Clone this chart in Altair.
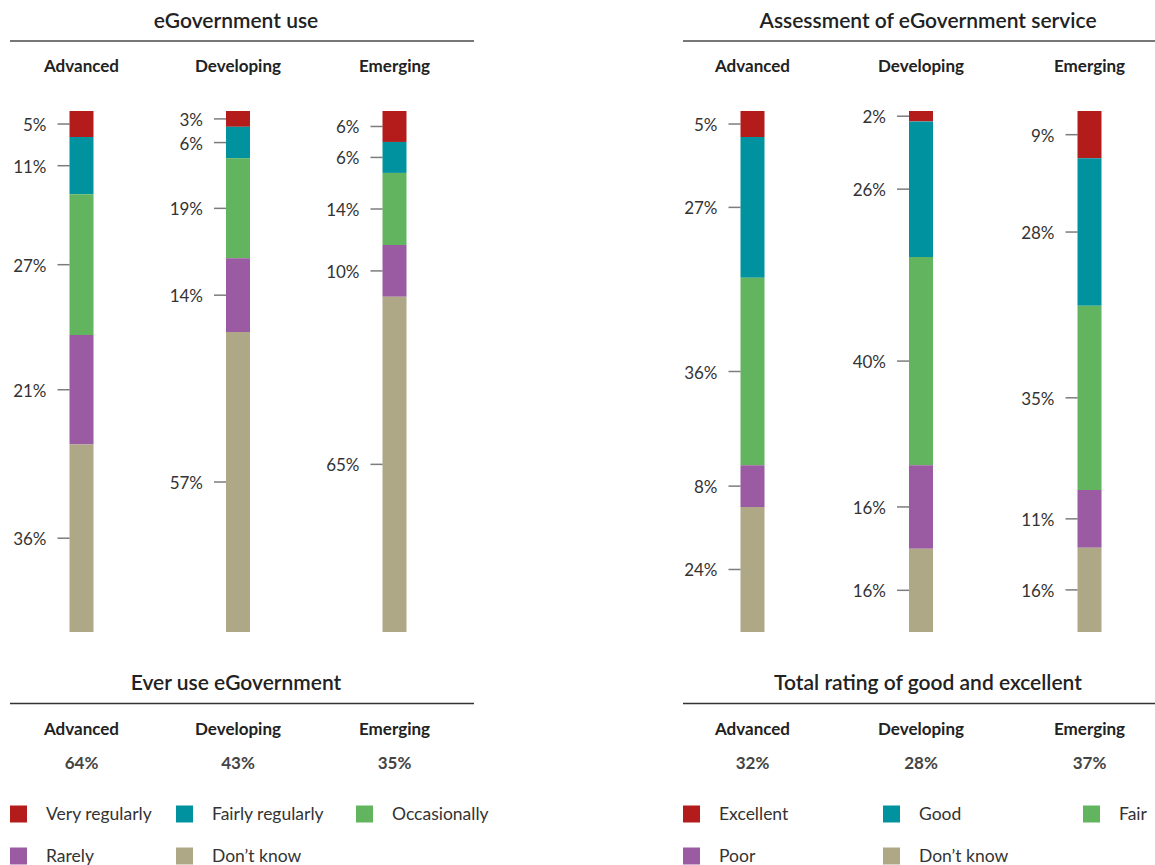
import altair as alt
import pandas as pd

# ---- data -------------------------------------------------------------
regions = ["Advanced", "Developing", "Emerging"]

use_levels = ["Very regularly", "Fairly regularly", "Occasionally", "Rarely", "Don’t know"]
use_advanced = [5, 11, 27, 21, 36]
use_developing = [3, 6, 19, 14, 57]
use_emerging = [6, 6, 14, 10, 65]
ever_use = [64, 43, 35]

rating_levels = ["Excellent", "Good", "Fair", "Poor", "Don’t know"]
rating_advanced = [5, 27, 36, 8, 24]
rating_developing = [2, 26, 40, 16, 16]
rating_emerging = [9, 28, 35, 11, 16]
good_excellent = [32, 28, 37]

palette = ["#B31C1A", "#00929F", "#62B45F", "#9B5BA3", "#AEA886"]

FONT = "Lato"
TITLE_COLOR = "#222222"
TEXT_COLOR = "#333333"


def long_table(levels, series):
    rows = []
    for region, values in zip(regions, series):
        for rank, (level, value) in enumerate(zip(levels, values)):
            rows.append({"region": region, "level": level, "rank": rank, "value": value})
    return pd.DataFrame(rows)


def text_row(text):
    return pd.DataFrame({"t": [text]})


def panel(title, foot_title, levels, series, totals, band_range, title_x,
          rule_span, legend_cols):
    xs = alt.Scale(domain=regions, range=band_range, paddingInner=0, paddingOuter=0)
    ys = alt.Scale(domain=[0, 1], range=[632, 111], nice=False, zero=False)
    cs = alt.Scale(domain=levels, range=palette)
    X = alt.X("region:N", scale=xs, axis=None)

    stacked = alt.Chart(long_table(levels, series)).transform_stack(
        stack="value", groupby=["region"], as_=["v0", "v1"], offset="normalize",
        sort=[alt.SortField("rank", order="descending")],
    ).transform_calculate(mid="(datum.v0 + datum.v1) / 2", label="datum.value + '%'")

    bars = stacked.mark_bar(width=24).encode(
        x=X,
        y=alt.Y("v0:Q", scale=ys, axis=None),
        y2="v1:Q",
        color=alt.Color("level:N", scale=cs, legend=None),
    )
    ticks = stacked.mark_tick(orient="horizontal", size=12, thickness=1.5,
                              color="#444444", xOffset=-18).encode(
        x=X, y=alt.Y("mid:Q", scale=ys, axis=None))
    labels = stacked.mark_text(align="right", baseline="middle", xOffset=-35, dy=2,
                               font=FONT, fontSize=17, color=TEXT_COLOR).encode(
        x=X, y=alt.Y("mid:Q", scale=ys, axis=None), text="label:N")

    heads = alt.Chart(pd.DataFrame({"region": regions, "total": totals})).transform_calculate(
        total_label="datum.total + '%'")
    head_style = dict(font=FONT, fontSize=17, fontWeight="bold", color=TITLE_COLOR,
                      baseline="middle")
    top_heads = heads.mark_text(**head_style).encode(x=X, y=alt.value(67), text="region:N")
    foot_heads = heads.mark_text(**head_style).encode(x=X, y=alt.value(730), text="region:N")
    foot_totals = heads.mark_text(font=FONT, fontSize=17, fontWeight="bold", color="#444444",
                                  baseline="middle").encode(
        x=X, y=alt.value(764), text="total_label:N")

    title_style = dict(font=FONT, fontSize=21, fontWeight=600, color=TITLE_COLOR,
                       baseline="middle", align="center")
    top_title = alt.Chart(text_row(title)).mark_text(**title_style).encode(
        x=alt.value(title_x), y=alt.value(22), text="t:N")
    foot_title = alt.Chart(text_row(foot_title)).mark_text(**title_style).encode(
        x=alt.value(title_x), y=alt.value(684), text="t:N")

    top_rule = alt.Chart(text_row("")).mark_rule(color="#777777", strokeWidth=2).encode(
        x=alt.value(rule_span[0]), x2=alt.value(rule_span[1]), y=alt.value(41))
    foot_rule = alt.Chart(text_row("")).mark_rule(color="#333333", strokeWidth=1.3).encode(
        x=alt.value(rule_span[0]), x2=alt.value(rule_span[1]), y=alt.value(703.5))

    legend = alt.Chart(pd.DataFrame({"level": levels, "rank": list(range(len(levels)))})
                       ).transform_calculate(
        col="datum.rank % 3",
        row="floor(datum.rank / 3)",
    ).transform_calculate(
        left=f"{legend_cols}[datum.col]",
        cy="814 + 42 * datum.row",
    ).transform_calculate(sq_x="datum.left + 8.5", tx="datum.left + 36")
    swatches = legend.mark_square(size=289, opacity=1).encode(
        x=alt.X("sq_x:Q", scale=None, axis=None),
        y=alt.Y("cy:Q", scale=None, axis=None),
        color=alt.Color("level:N", scale=cs, legend=None),
    )
    legend_text = legend.mark_text(align="left", baseline="middle", dy=1, font=FONT,
                                   fontSize=17.5, color=TEXT_COLOR).encode(
        x=alt.X("tx:Q", scale=None, axis=None),
        y=alt.Y("cy:Q", scale=None, axis=None),
        text="level:N",
    )

    return [top_title, top_rule, top_heads, bars, ticks, labels,
            foot_title, foot_rule, foot_heads, foot_totals, swatches, legend_text]


left_layers = panel(
    "eGovernment use", "Ever use eGovernment", use_levels,
    [use_advanced, use_developing, use_emerging], ever_use,
    band_range=[3.25, 472.75], title_x=236, rule_span=[10, 474],
    legend_cols=[10, 176, 356],
)
right_layers = panel(
    "Assessment of eGovernment service", "Total rating of good and excellent", rating_levels,
    [rating_advanced, rating_developing, rating_emerging], good_excellent,
    band_range=[668.25, 1173.75], title_x=928, rule_span=[683, 1155],
    legend_cols=[683, 883, 1083],
)

chart = alt.layer(*left_layers, *right_layers).resolve_scale(
    x="independent", y="independent", color="independent"
).properties(
    width=1155, height=865, padding=0,
    autosize=alt.AutoSizeParams(type="none"),
    background="white",
).configure_view(strokeWidth=0)

chart.save("out.html", embed_options={"renderer": "svg", "actions": False})
